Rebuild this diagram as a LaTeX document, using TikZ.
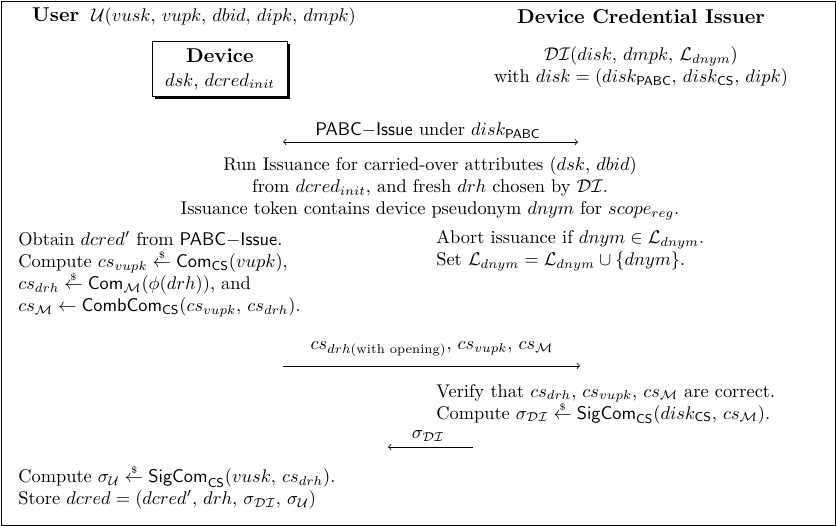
\documentclass[tikz,border=0pt]{standalone}
\usepackage{amsmath}
\usetikzlibrary{shadows}

\newcommand{\rnd}{\mathrel{\mbox{\ooalign{$\leftarrow$\cr\hidewidth\raisebox{1.15ex}[0pt][0pt]{$\scriptscriptstyle\$$}\hidewidth\cr}}}}
\newcommand{\hdr}[1]{{\fontsize{10.9}{13}\selectfont\textbf{#1}}}

\begin{document}
\begin{tikzpicture}[x=0.01914cm, y=-0.01914cm,
    txt/.style={inner sep=0pt},
    blk/.style={inner sep=0pt, anchor=west, align=left},
    devbox/.style={draw, fill=white, align=center, minimum width=2.57cm,
      minimum height=1.06cm, inner sep=2pt,
      drop shadow={shadow xshift=1.3pt, shadow yshift=-1.3pt, opacity=1, fill=black}}]
      \useasboundingbox (0, 0) rectangle (836, 526);
      \draw (1, 1) rectangle (835, 525);

      % parties
      \node[txt] (user) at (194, 17) {\hdr{User}\ \ $\mathcal{U}(vusk,\,vupk,\,dbid,\,dipk,\,dmpk)$};
      \node[txt] (issuer) at (641, 17) {\hdr{Device Credential Issuer}};
      \node[devbox] (device) at (220, 69) {\hdr{Device}\\[1pt] $dsk$, $dcred_{init}$};
      \node[txt, align=center] (dikeys) at (641, 67) {$\mathcal{DI}(disk,\,dmpk,\,\mathcal{L}_{dnym})$\\
        with $disk = (disk_{\mathsf{PABC}},\,disk_{\mathsf{CS}},\,dipk)$};

      % PABC issuance
      \coordinate (pabcL) at (283, 142);
      \coordinate (pabcR) at (578, 142);
      \draw[<->] (pabcL) -- (pabcR);
      \node[txt] (pabc) at (428, 131) {$\mathsf{PABC}{-}\mathsf{Issue}$ under $disk_{\mathsf{PABC}}$};
      \node[txt, align=center] (run) at (430, 188) {Run Issuance for carried-over attributes ($dsk$, $dbid$)\\
        from $dcred_{init}$, and fresh $drh$ chosen by $\mathcal{DI}$.\\
        Issuance token contains device pseudonym $dnym$ for $scope_{reg}$.};

      % commitments
      \node[blk] (obtain) at (18, 274) {Obtain $dcred'$ from $\mathsf{PABC}{-}\mathsf{Issue}$.\\
        Compute $cs_{vupk} \rnd \mathsf{Com}_{\mathsf{CS}}(vupk)$,\\
        $cs_{drh} \rnd \mathsf{Com}_{\mathcal{M}}(\phi(drh))$, and\\
        $cs_{\mathcal{M}} \leftarrow \mathsf{CombCom}_{\mathsf{CS}}(cs_{vupk},\,cs_{drh})$.};
      \node[blk] (abort) at (436, 251) {Abort issuance if $dnym \in \mathcal{L}_{dnym}$.\\
        Set $\mathcal{L}_{dnym} = \mathcal{L}_{dnym} \cup \{dnym\}$.};

      \coordinate (comL) at (283, 366);
      \coordinate (comR) at (580, 366);
      \draw[->] (comL) -- (comR);
      \node[txt] (comlbl) at (432, 349) {$cs_{drh(\text{with opening})},\,cs_{vupk},\,cs_{\mathcal{M}}$};

      % signature
      \node[blk] (verify) at (436, 404) {Verify that $cs_{drh},\,cs_{vupk},\,cs_{\mathcal{M}}$ are correct.\\
        Compute $\sigma_{\mathcal{DI}} \rnd \mathsf{SigCom}_{\mathsf{CS}}(disk_{\mathsf{CS}},\,cs_{\mathcal{M}})$.};

      \coordinate (sigR) at (473, 447);
      \coordinate (sigL) at (388, 447);
      \draw[->] (sigR) -- (sigL);
      \node[txt] (siglbl) at (428, 436) {$\sigma_{\mathcal{DI}}$};

      \node[blk] (store) at (18, 489) {Compute $\sigma_{\mathcal{U}} \rnd \mathsf{SigCom}_{\mathsf{CS}}(vusk,\,cs_{drh})$.\\
        Store $dcred = (dcred',\,drh,\,\sigma_{\mathcal{DI}},\,\sigma_{\mathcal{U}})$};
    \end{tikzpicture}
\end{document}
